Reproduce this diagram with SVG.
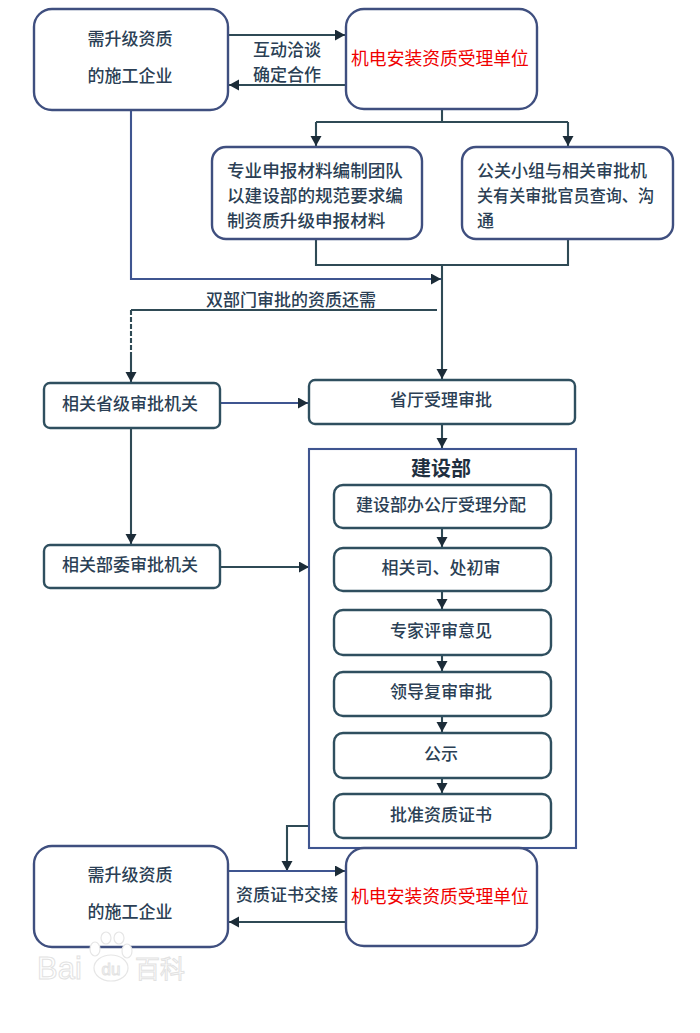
<svg xmlns="http://www.w3.org/2000/svg" width="700" height="1033" viewBox="0 0 700 1033">
<style>
.n{fill:#fff;stroke:#3f4f7f;stroke-width:2.4}
.g{fill:#fff;stroke:#2f4f5f;stroke-width:2.4}
.c{fill:none;stroke:#2f4a55;stroke-width:2.1}
.b{stroke:#3f5590}
.d{stroke-dasharray:5 2}
text{font-family:"Noto Sans CJK SC","Liberation Sans",sans-serif;fill:#2b3f55;font-size:17px;font-weight:500;text-anchor:middle}
.l{text-anchor:start}
.m{font-size:17.6px}
.r{fill:#f00000;font-weight:400;font-size:17.8px}
.w{fill:#fff;stroke:#e2e2e2;stroke-width:1;font-weight:400}
.p{fill:#fff;stroke:#e6e6e6;stroke-width:1.2}
</style>
<defs>
<marker id="a" markerUnits="userSpaceOnUse" markerWidth="12" markerHeight="12" refX="10" refY="5.5" orient="auto"><path d="M0 0L10 5.5L0 11Z" fill="#1c2c38"/></marker>
</defs>
<rect width="700" height="1033" fill="#fff"/>
<g id="connectors">
<path class="c" d="M228 35H345" marker-end="url(#a)"/>
<path class="c" d="M346 85H229" marker-end="url(#a)"/>
<path class="c" d="M442 109V122"/>
<path class="c" d="M316 122H568"/>
<path class="c" d="M316 122V146" marker-end="url(#a)"/>
<path class="c" d="M568 122V146" marker-end="url(#a)"/>
<path class="c" d="M316 239V265H568V239"/>
<path class="c b" d="M131 110V279H441" marker-end="url(#a)"/>
<path class="c" d="M442 265V379" marker-end="url(#a)"/>
<path class="c" d="M437 310H131"/>
<path class="c d" d="M131 310V352"/>
<path class="c" d="M131 352V382" marker-end="url(#a)"/>
<path class="c b" d="M220 403H308" marker-end="url(#a)"/>
<path class="c" d="M442 424V448" marker-end="url(#a)"/>
<path class="c" d="M131 428V544" marker-end="url(#a)"/>
<path class="c" d="M220 567H309" marker-end="url(#a)"/>
<path class="c" d="M442 528V547" marker-end="url(#a)"/>
<path class="c" d="M442 591V609" marker-end="url(#a)"/>
<path class="c" d="M442 655V671" marker-end="url(#a)"/>
<path class="c" d="M442 716V732" marker-end="url(#a)"/>
<path class="c" d="M442 778V793" marker-end="url(#a)"/>
<path class="c" d="M309 826H287V871" marker-end="url(#a)"/>
<path class="c b" d="M228 871H345" marker-end="url(#a)"/>
<path class="c" d="M346 922H229" marker-end="url(#a)"/>
</g>
<text x="287" y="56">互动洽谈</text>
<text x="287" y="81">确定合作</text>
<text x="291" y="306">双部门审批的资质还需</text>
<text x="287" y="901">资质证书交接</text>
<g id="n1"><rect class="n" x="34" y="9" width="194" height="101" rx="18"/><text x="130" y="45">需升级资质</text><text x="130" y="82">的施工企业</text></g>
<g id="n2"><rect class="n" x="346" y="9" width="191" height="100" rx="18"/><text class="r" x="440" y="65">机电安装资质受理单位</text></g>
<g id="n3"><rect class="n" x="212" y="147" width="210" height="92" rx="14"/><text class="l m" x="227" y="177">专业申报材料编制团队</text><text class="l m" x="227" y="202">以建设部的规范要求编</text><text class="l m" x="227" y="227">制资质升级申报材料</text></g>
<g id="n4"><rect class="n" x="462" y="147" width="211" height="92" rx="14"/><text class="l" x="477" y="177">公关小组与相关审批机</text><text class="l" x="477" y="202" textLength="177" lengthAdjust="spacingAndGlyphs">关有关审批官员查询、沟</text><text class="l" x="477" y="227">通</text></g>
<g id="n5"><rect class="g" x="44" y="383" width="176" height="45" rx="6"/><text x="130" y="410">相关省级审批机关</text></g>
<g id="n6"><rect class="g" x="309" y="380" width="266" height="44" rx="6"/><text x="441" y="406">省厅受理审批</text></g>
<g id="n7"><rect class="g" x="44" y="545" width="176" height="43" rx="6"/><text x="130" y="571">相关部委审批机关</text></g>
<g id="n8"><rect x="309" y="449" width="267" height="399" fill="none" stroke="#3f5590" stroke-width="2.1"/><text x="441" y="476" style="font-size:20px;font-weight:700;fill:#1f2f3f">建设部</text></g>
<g id="n9"><rect class="g" x="334" y="485" width="217" height="43" rx="9"/><text x="441" y="511">建设部办公厅受理分配</text></g>
<g id="n10"><rect class="g" x="334" y="548" width="217" height="43" rx="9"/><text x="441" y="574">相关司、处初审</text></g>
<g id="n11"><rect class="g" x="334" y="610" width="217" height="45" rx="9"/><text x="441" y="637">专家评审意见</text></g>
<g id="n12"><rect class="g" x="334" y="672" width="217" height="44" rx="9"/><text x="441" y="698">领导复审审批</text></g>
<g id="n13"><rect class="g" x="334" y="733" width="217" height="45" rx="9"/><text x="441" y="760">公示</text></g>
<g id="n14"><rect class="g" x="334" y="794" width="217" height="44" rx="9"/><text x="441" y="821">批准资质证书</text></g>
<g id="n15"><rect class="n" x="34" y="846" width="194" height="101" rx="18"/><text x="130" y="881">需升级资质</text><text x="130" y="918">的施工企业</text></g>
<g id="n16"><rect class="n" x="346" y="848" width="191" height="98" rx="18"/><text class="r" x="440" y="903">机电安装资质受理单位</text></g>
<g id="watermark">
<ellipse class="p" cx="95" cy="949" rx="5" ry="7"/><ellipse class="p" cx="106" cy="938" rx="5" ry="6"/><ellipse class="p" cx="119" cy="938" rx="5" ry="6"/><ellipse class="p" cx="127" cy="951" rx="5" ry="7"/><ellipse class="p" cx="111" cy="968" rx="17" ry="13"/>
<text class="w" x="37" y="979" style="text-anchor:start;font-family:'Liberation Sans',sans-serif;font-size:31px">Bai</text><text class="w" x="111" y="975" style="font-size:17px;font-family:'Liberation Sans',sans-serif">du</text><text class="w" x="160" y="978" style="font-size:25px">百科</text></g>
</svg>
